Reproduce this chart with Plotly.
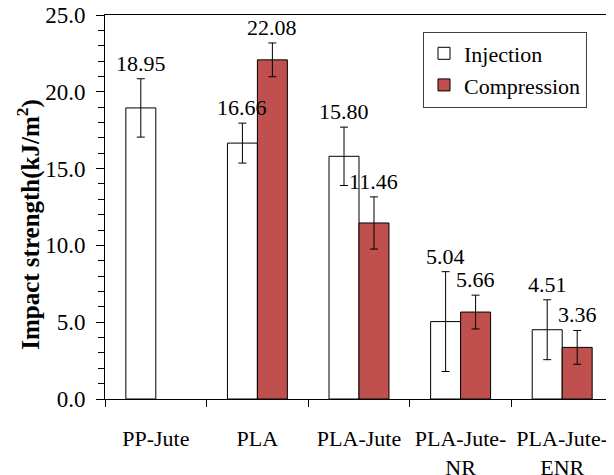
import plotly.graph_objects as go

categories = ["PP-Jute", "PLA", "PLA-Jute", "PLA-Jute-<br>NR", "PLA-Jute-<br>ENR"]
injection = [18.95, 16.66, 15.80, 5.04, 4.51]
compression = [None, 22.08, 11.46, 5.66, 3.36]
injection_err = [1.9, 1.3, 1.9, 3.25, 1.95]
compression_err = [None, 1.1, 1.7, 1.1, 1.1]
y_ticks = [0, 5, 10, 15, 20, 25]

FONT = "Liberation Serif"
RED = "#C0504D"
BARGAP = 0.41

fig = go.Figure()
fig.add_trace(go.Bar(
    name="Injection", x=categories, y=injection,
    marker=dict(color="white", line=dict(color="black", width=1)),
    error_y=dict(type="data", array=injection_err, color="black", thickness=1, width=4),
))
fig.add_trace(go.Bar(
    name="Compression", x=categories, y=compression,
    marker=dict(color=RED, line=dict(color="black", width=1)),
    error_y=dict(type="data", array=[e if e is not None else 0 for e in compression_err],
                 color="black", thickness=1, width=4),
))

# value labels above the error bars
half = (1 - BARGAP) / 4
for series, errs, off in [(injection, injection_err, -half), (compression, compression_err, half)]:
    for i, (v, e) in enumerate(zip(series, errs)):
        if v is None:
            continue
        fig.add_annotation(
            x=i + off, y=v + e, xref="x", yref="y",
            text=f"{v:.2f}", showarrow=False, yanchor="bottom",
            font=dict(family=FONT, size=22, color="black"), yshift=1,
        )

fig.add_annotation(
    xref="paper", yref="paper", x=0, y=0.4537, xshift=-76,
    xanchor="center", yanchor="middle",
    text="<b>Impact strength(kJ/m<sup>2</sup>)</b>", textangle=-90,
    showarrow=False, font=dict(family=FONT, size=25, color="black"),
)

fig.update_layout(
    width=606, height=467,
    margin=dict(l=97, r=1, t=7, b=76, autoexpand=False),
    paper_bgcolor="white", plot_bgcolor="white",
    barmode="group", bargap=BARGAP, bargroupgap=0,
    font=dict(family=FONT, size=22, color="black"),
    showlegend=True,
    legend=dict(
        x=0.626, y=0.957, xanchor="left", yanchor="top",
        bordercolor="#404040", borderwidth=1, bgcolor="white",
        font=dict(family=FONT, size=22, color="black"),
        tracegroupgap=0,
    ),
)
fig.update_xaxes(
    type="category", showline=True, linecolor="black", linewidth=1, mirror=True,
    ticks="outside", tickson="boundaries", ticklen=7, tickcolor="black",
    showgrid=False, automargin=False, ticklabelstandoff=20, ticklabeloverflow="allow",
    tickfont=dict(family=FONT, size=22, color="black"),
)
fig.update_yaxes(
    range=[0, 25], tickvals=y_ticks, ticktext=[f"{t:.1f}" for t in y_ticks],
    showline=True, linecolor="black", linewidth=1, mirror=True,
    ticks="outside", ticklen=8, tickcolor="black", showgrid=False, zeroline=False,
    automargin=False, ticklabelstandoff=6, ticklabeloverflow="allow",
    minor=dict(dtick=1, ticks="outside", ticklen=6, tickcolor="black", showgrid=False),
    tickfont=dict(family=FONT, size=23, color="black"),
)

fig.write_html("out.html")
